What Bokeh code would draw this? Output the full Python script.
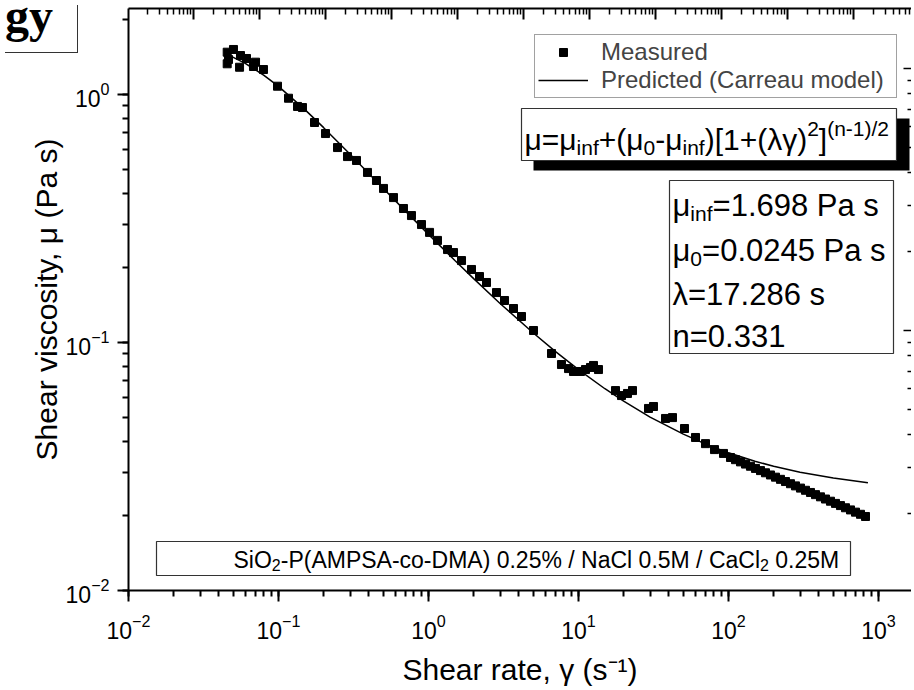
from bokeh.plotting import figure
from bokeh.models import (LogAxis, Range1d, FixedTicker, Label, BoxAnnotation,
                          Legend, LegendItem, Div)
from bokeh.layouts import column
from bokeh.embed import file_html
from bokeh.resources import INLINE

# ---------------- data ----------------
shear_rate = [0.0455, 0.0501, 0.0455, 0.0464, 0.0558, 0.0550, 0.0612, 0.0703, 0.0681, 0.0794,
              0.0985, 0.1166, 0.1339, 0.1445, 0.1738, 0.2057, 0.2474, 0.2884, 0.3311, 0.3920,
              0.4500, 0.5012, 0.5843, 0.681, 0.770, 0.898, 1.016, 1.148, 1.339, 1.468,
              1.660, 1.935, 2.188, 2.436, 2.840, 3.212, 3.687, 4.169, 5.012, 6.607,
              7.70, 8.58, 9.26, 10.31, 11.13, 12.02, 12.59, 13.59, 17.65, 19.35,
              21.21, 22.91, 29.29, 31.62, 38.02, 42.34, 50.89, 60.26, 70.26, 80.66,
              92.6, 103.1, 111.3, 120.2, 129.8, 140.1, 151.3, 163.4, 176.4, 190.5,
              205.7, 222.1, 239.8, 258.9, 279.6, 301.9, 326.0, 352.0, 380.1, 410.4,
              443.2, 478.5, 516.7, 557.9, 602.4, 650.5, 702.4, 758.4, 818.9]
viscosity = [1.481, 1.519, 1.330, 1.384, 1.436, 1.288, 1.397, 1.350, 1.297, 1.261,
             1.080, 0.966, 0.895, 0.886, 0.771, 0.696, 0.611, 0.562, 0.542, 0.485,
             0.450, 0.418, 0.384, 0.347, 0.325, 0.299, 0.278, 0.258, 0.237, 0.2305,
             0.214, 0.197, 0.1845, 0.1746, 0.159, 0.1477, 0.1371, 0.1273, 0.1118, 0.0903,
             0.0815, 0.0785, 0.0764, 0.0764, 0.0778, 0.0793, 0.0808, 0.0778, 0.0640, 0.0611,
             0.0623, 0.0640, 0.0542, 0.0552, 0.0494, 0.0498, 0.0450, 0.0414, 0.0391, 0.0370,
             0.0357, 0.03438, 0.03369, 0.03301, 0.03235, 0.03170, 0.03106, 0.03044, 0.02983, 0.02923,
             0.02864, 0.02807, 0.02750, 0.02695, 0.02641, 0.02588, 0.02536, 0.02485, 0.02435, 0.02386,
             0.02338, 0.02291, 0.02245, 0.02200, 0.02156, 0.02113, 0.02070, 0.02029, 0.01988]

model_rate = [0.047, 0.06, 0.08, 0.1, 0.15, 0.2, 0.3, 0.5, 0.7, 1.0, 1.5, 2.0, 3.0, 5.0,
              7.0, 10.0, 15.0, 20.0, 30.0, 50.0, 70.0, 100.0, 150.0, 200.0, 300.0, 500.0, 850.0]
model_visc = [1.437, 1.335, 1.195, 1.078, 0.869, 0.735, 0.574, 0.418, 0.3395, 0.2729, 0.2141,
              0.1809, 0.1437, 0.1092, 0.0921, 0.0778, 0.0651, 0.0580, 0.0500, 0.0427, 0.0390,
              0.0359, 0.0332, 0.0317, 0.0300, 0.0284, 0.0272]

legend_labels = ["Measured", "Predicted (Carreau model)"]
x_title = "Shear rate, \u03b3 (s\u207b\u00b9)"
y_title = "Shear viscosity, \u03bc (Pa s)"
sample_text = [("SiO", 0), ("2", 1), ("-P(AMPSA-co-DMA) 0.25% / NaCl 0.5M / CaCl", 0), ("2", 1), (" 0.25M", 0)]
equation = [("\u03bc=\u03bc", 0), ("inf", 1), ("+(\u03bc", 0), ("0", 1), ("-\u03bc", 0), ("inf", 1),
            (")[1+(\u03bb\u03b3)", 0), ("2", 2), ("]", 0), ("(n-1)/2", 2)]
params = [[("\u03bc", 0), ("inf", 1), ("=1.698 Pa s", 0)],
          [("\u03bc", 0), ("0", 1), ("=0.0245 Pa s", 0)],
          [("\u03bb=17.286 s", 0)],
          [("n=0.331", 0)]]
title_fragment = "gy"

# ---------------- geometry (page pixels of the reference) ----------------
FONT = "Liberation Sans"
FL, FT, FB, FR = 128, 8, 590, 911
XD, YD = 150.0, 248.0
BASE_FIX = 8   # Bokeh draws label baselines this many px lower than asked


def X(px):
    return 10 ** ((px - FL) / XD - 2)


def Y(py):
    return 10 ** ((94 - py) / YD)


p = figure(frame_width=FR - FL, frame_height=FB - FT,
           x_axis_type="log", y_axis_type="log",
           x_range=Range1d(X(FL), X(FR)), y_range=Range1d(Y(FB), Y(FT)),
           output_backend="svg", toolbar_location=None,
           min_border_left=FL, min_border_right=0, min_border_top=FT, min_border_bottom=100)
p.outline_line_color = None
p.xgrid.visible = False
p.ygrid.visible = False
p.background_fill_color = "white"
p.border_fill_color = "white"

for ax in (p.xaxis[0], p.yaxis[0]):
    ax.axis_line_width = 2
    ax.axis_line_color = "black"
    ax.major_tick_line_width = 2
    ax.minor_tick_line_width = 2
    ax.major_tick_in = 0
    ax.minor_tick_in = 0
    ax.major_tick_out = 11
    ax.minor_tick_out = 6
    ax.major_label_text_font = FONT
    ax.major_label_text_font_size = "23px"
    ax.major_label_text_color = "black"
    ax.axis_label_text_font = FONT
    ax.axis_label_text_font_size = "30px"
    ax.axis_label_text_font_style = "normal"
    ax.axis_label_text_color = "black"
p.xaxis[0].major_label_standoff = 12
p.yaxis[0].major_label_standoff = 8
p.xaxis[0].axis_label = x_title
p.yaxis[0].axis_label = y_title
p.xaxis[0].axis_label_standoff = 11
p.yaxis[0].axis_label_standoff = 0

# top axis: another log scale (one decade = 66 px), inward ticks only
TOP0, TOPD = 193.3, 66.0
p.extra_x_ranges = {"top": Range1d(10 ** ((FL - TOP0) / TOPD), 10 ** ((FR - TOP0) / TOPD))}
top_major = [10.0 ** k for k in range(-2, 13)]
top_minor = [m * 10.0 ** k for k in range(-2, 13) for m in range(2, 10)]
top = LogAxis(x_range_name="top", ticker=FixedTicker(ticks=top_major, minor_ticks=top_minor),
              axis_line_width=2, major_tick_in=11, major_tick_out=0, minor_tick_in=6,
              minor_tick_out=0, major_tick_line_width=2, minor_tick_line_width=1.5,
              major_label_text_font_size="1px", major_label_text_alpha=0, major_label_standoff=0)
p.add_layout(top, "above")

# right axis: partial inward ticks (one decade = 262 px)
p.extra_y_ranges = {"right": Range1d(10 ** ((592 - FB) / 262.0), 10 ** ((592 - FT) / 262.0))}
right_major = [1.0, 10.0, 100.0]
right_minor = [m * 10.0 ** k for k in range(0, 3) for m in range(2, 10)]
right = LogAxis(y_range_name="right", ticker=FixedTicker(ticks=right_major, minor_ticks=right_minor),
                axis_line_color=None, major_tick_in=8, major_tick_out=0, minor_tick_in=4,
                minor_tick_out=0, major_tick_line_width=1.5, minor_tick_line_width=1.5,
                major_label_text_font_size="1px", major_label_text_alpha=0, major_label_standoff=0)
p.add_layout(right, "right")

sc = p.scatter(shear_rate, viscosity, marker="square", size=8, color="black")
ln = p.line(model_rate, model_visc, line_color="black", line_width=1.5)

legend = Legend(items=[LegendItem(label=legend_labels[0], renderers=[sc]),
                       LegendItem(label=legend_labels[1], renderers=[ln])],
                location=(534 - FL, FB - 98), label_text_font=FONT, label_text_font_size="24px",
                glyph_width=50, glyph_height=20, label_standoff=13, padding=3, spacing=0,
                label_width=292, margin=0, border_line_color="#444444", border_line_width=1,
                background_fill_color="white", background_fill_alpha=1.0, label_height=24)
p.add_layout(legend)

W = {' ': 278, '%': 889, '(': 333, ')': 333, '+': 584, ',': 278, '-': 333, '.': 278, '/': 278,
     '=': 584, '[': 278, ']': 278, 'A': 667, 'C': 722, 'D': 722, 'M': 833, 'N': 722, 'O': 778,
     'P': 667, 'S': 667, 'a': 556, 'c': 500, 'd': 556, 'e': 556, 'f': 278, 'i': 222, 'l': 222,
     'n': 556, 'o': 556, 's': 500, '\u03bc': 576, '\u03bb': 500, '\u03b3': 500}


def tw(s, size):
    return sum(W.get(c, 556) for c in s) * size / 1000.0


def rich(x0, base, parts, size, small, sub_dy, sup_dy):
    x = x0
    for text, kind in parts:
        fs = size if kind == 0 else small
        dy = 0 if kind == 0 else (sub_dy if kind == 1 else -sup_dy)
        stripped = text.lstrip(" ")
        x += tw(text[:len(text) - len(stripped)], fs)
        p.add_layout(Label(x=X(x), y=Y(base + dy - BASE_FIX), text=stripped, text_font=FONT,
                           text_font_size=f"{fs}px", text_baseline="alphabetic",
                           text_align="left", text_color="black"))
        x += tw(stripped, fs)


def box(l, t, r, b, fill="white", line="#333333"):
    p.add_layout(BoxAnnotation(left=X(l), right=X(r), top=Y(t), bottom=Y(b),
                               fill_color=fill, fill_alpha=1.0, line_color=line,
                               line_width=1.2, line_alpha=1.0))

# equation box with shadow
box(533, 118, 909, 170, fill="black", line=None)
box(521, 108, 896, 160)
rich(524, 147, equation, 30, 21, 8, 11)

# parameter box
box(669, 180, 893, 353)
for i, line in enumerate(params):
    rich(672, [213, 258, 302, 344][i], line, 31, 21, 8, 10)

# sample annotation
box(156, 541, 850, 575)
rich(233, 567, sample_text, 23, 16, 5, 8)

# cropped title box at the top left (outside the frame, so drawn as an HTML overlay)
gy = Div(text='<span style="position:absolute; left:0px; top:-13px;">' + title_fragment + '</span>',
         width=73, height=48,
         styles={"position": "absolute", "left": "0px", "top": "0px", "z-index": "10",
                 "box-sizing": "border-box", "border-right": "1.5px solid #333333",
                 "border-bottom": "1.5px solid #333333", "background": "white",
                 "font-family": "Liberation Serif", "font-weight": "bold",
                 "font-size": "48px", "line-height": "48px", "overflow": "hidden",
                 "color": "black"})

page = column(p, gy)
open("out.html", "w").write(file_html(page, INLINE))
